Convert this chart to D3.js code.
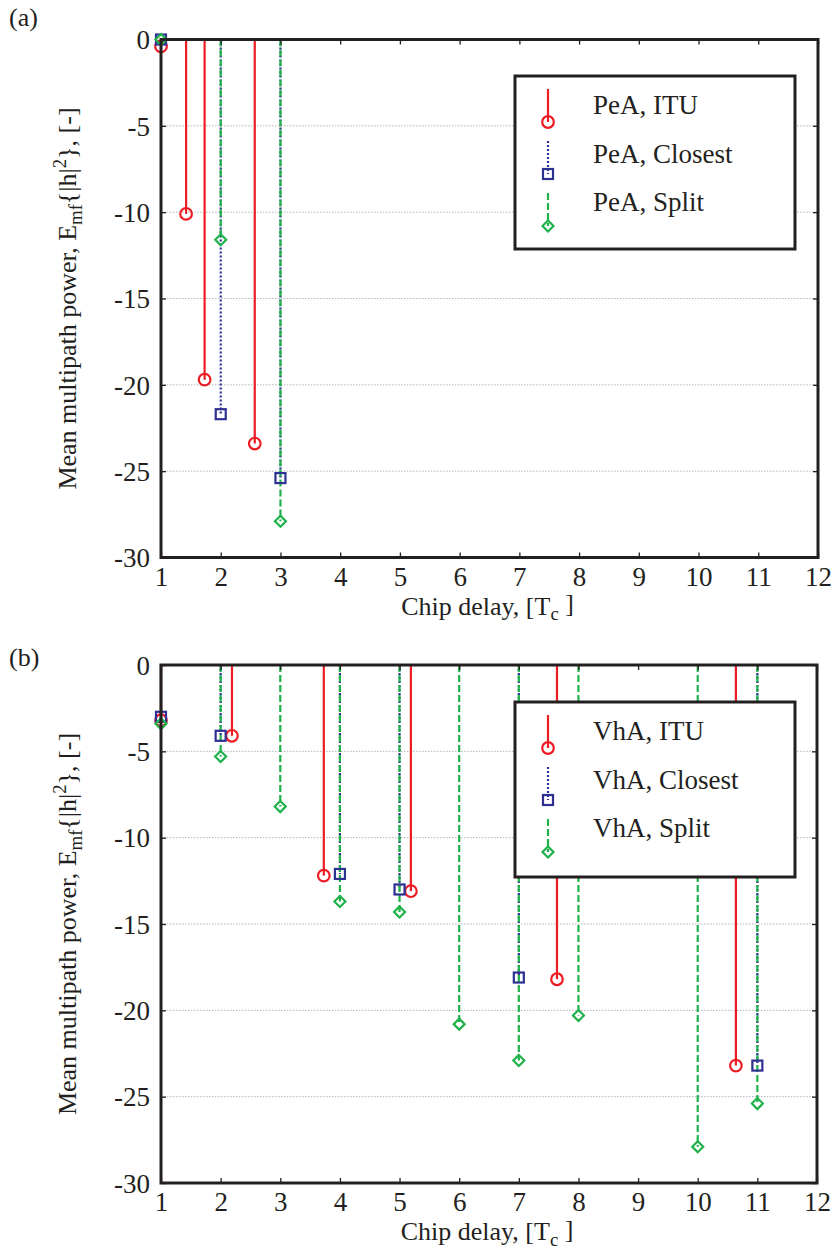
<!DOCTYPE html>
<html><head><meta charset="utf-8">
<script src="https://cdn.jsdelivr.net/npm/d3@7"></script>
<style>
body{margin:0;background:#fff;}
svg{display:block;font-family:"Liberation Serif","Times New Roman",serif;}
</style></head>
<body><svg id="chart" width="840" height="1251"></svg>
<script>
// ---- data ----
const xTicks = [1,2,3,4,5,6,7,8,9,10,11,12];
const yTicks = [0,-5,-10,-15,-20,-25,-30];

// Panel (a): Pedestrian A
const peaItuDelay = [1, 1.42, 1.73, 2.57];
const peaItuPower = [-0.4, -10.1, -19.7, -23.4];
const peaClosestDelay = [1, 2, 3];
const peaClosestPower = [0, -21.7, -25.4];
const peaSplitDelay = [1, 2, 3];
const peaSplitPower = [0, -11.6, -27.9];

// Panel (b): Vehicular A
const vhaItuDelay = [1, 2.19, 3.73, 5.19, 7.64, 10.64];
const vhaItuPower = [-3.2, -4.1, -12.2, -13.1, -18.2, -23.2];
const vhaClosestDelay = [1, 2, 4, 5, 7, 11];
const vhaClosestPower = [-3.0, -4.1, -12.1, -13.0, -18.1, -23.2];
const vhaSplitDelay = [1, 2, 3, 4, 5, 6, 7, 8, 10, 11];
const vhaSplitPower = [-3.4, -5.3, -8.2, -13.7, -14.3, -20.8, -22.9, -20.3, -27.9, -25.4];

const seriesNamesA = ["PeA, ITU", "PeA, Closest", "PeA, Split"];
const seriesNamesB = ["VhA, ITU", "VhA, Closest", "VhA, Split"];

// ---- styles ----
const RED = "#ed1c24", BLUE = "#2e3192", GREEN = "#1fb24a", INK = "#231f20";
const FONT = 26, TICKFONT = 27, LEGFONT = 27;
const styles = [
  {color: RED, dash: null, marker: "circle"},
  {color: BLUE, dash: "2,2", marker: "square"},
  {color: GREEN, dash: "7,3", marker: "diamond"}
];

const svg = d3.select("#chart");

function drawMarker(g, type, cx, cy, color) {
  if (type === "circle") {
    g.append("circle").attr("cx", cx).attr("cy", cy).attr("r", 5.8)
      .attr("fill", "none").attr("stroke", color).attr("stroke-width", 2.2);
  } else if (type === "square") {
    g.append("rect").attr("x", cx - 5).attr("y", cy - 5).attr("width", 10).attr("height", 10)
      .attr("fill", "none").attr("stroke", color).attr("stroke-width", 2.2);
  } else {
    const s = 5.5;
    g.append("path").attr("d", `M${cx},${cy - s}L${cx + s},${cy}L${cx},${cy + s}L${cx - s},${cy}Z`)
      .attr("fill", "none").attr("stroke", color).attr("stroke-width", 2.2);
  }
}

function panel(opt) {
  const {top, bottom, left, right, series, names, legend, tag} = opt;
  const x = d3.scaleLinear().domain([1, 12]).range([left, right]);
  const y = d3.scaleLinear().domain([0, -30]).range([top, bottom]);
  const g = svg.append("g");

  // grid
  g.append("g").selectAll("line").data(yTicks.filter(d => d !== 0 && d !== -30)).join("line")
    .attr("x1", left).attr("x2", right).attr("y1", d => y(d)).attr("y2", d => y(d))
    .attr("stroke", "#b5b5b5").attr("stroke-width", 1).attr("stroke-dasharray", "1.5,1.5");

  // stems
  series.forEach((s, i) => {
    const st = styles[i];
    const sg = g.append("g");
    s.delay.forEach((d, j) => {
      sg.append("line").attr("x1", x(d)).attr("x2", x(d)).attr("y1", y(0)).attr("y2", y(s.power[j]))
        .attr("stroke", st.color).attr("stroke-width", 2.2)
        .attr("stroke-dasharray", st.dash);
    });
  });
  series.forEach((s, i) => {
    const st = styles[i];
    s.delay.forEach((d, j) => drawMarker(g, st.marker, x(d), y(s.power[j]), st.color));
  });

  // axes (ticks inward)
  const axB = g.append("g").attr("transform", `translate(0,${bottom})`)
    .call(d3.axisBottom(x).tickValues(xTicks).tickSize(-5).tickPadding(10).tickFormat(d3.format("d")));
  const axT = g.append("g").attr("transform", `translate(0,${top})`)
    .call(d3.axisTop(x).tickValues(xTicks).tickSize(-5).tickFormat(""));
  const axL = g.append("g").attr("transform", `translate(${left},0)`)
    .call(d3.axisLeft(y).tickValues(yTicks).tickSize(-5).tickPadding(11).tickFormat(d3.format("d")));
  const axR = g.append("g").attr("transform", `translate(${right},0)`)
    .call(d3.axisRight(y).tickValues(yTicks).tickSize(-5).tickFormat(""));
  [axB, axT, axL, axR].forEach(a => {
    a.select(".domain").remove();
    a.selectAll(".tick line").attr("stroke", INK).attr("stroke-width", 1.3);
    a.selectAll("text").attr("font-size", TICKFONT).attr("fill", INK)
      .attr("font-family", '"Liberation Serif","Times New Roman",serif');
  });
  axB.selectAll("text").attr("dy", "0.68em");
  axL.selectAll("text").attr("dy", "0.34em").text(d => d < 0 ? "-" + Math.abs(d) : d);

  // frame
  g.append("rect").attr("x", left).attr("y", top).attr("width", right - left).attr("height", bottom - top)
    .attr("fill", "none").attr("stroke", INK).attr("stroke-width", 3);

  // legend
  const L = legend;
  const lg = g.append("g");
  lg.append("rect").attr("x", L.x).attr("y", L.y).attr("width", L.w).attr("height", L.h)
    .attr("fill", "#fff").attr("stroke", INK).attr("stroke-width", 3);
  names.forEach((n, i) => {
    const st = styles[i];
    const y0 = L.y + 13 + i * 52;
    const lx = L.x + 33;
    lg.append("line").attr("x1", lx).attr("x2", lx).attr("y1", y0).attr("y2", y0 + 33)
      .attr("stroke", st.color).attr("stroke-width", 2.2).attr("stroke-dasharray", st.dash);
    drawMarker(lg, st.marker, lx, y0 + 33, st.color);
    lg.append("text").attr("x", L.x + 78).attr("y", L.y + 38 + i * 48.5)
      .attr("font-size", LEGFONT).attr("fill", INK).text(n);
  });

  // axis titles
  const xt = g.append("text").attr("x", (left + right) / 2 - 2).attr("y", bottom + 57)
    .attr("text-anchor", "middle").attr("font-size", FONT).attr("fill", INK);
  xt.append("tspan").text("Chip delay, [T");
  xt.append("tspan").attr("dy", "0.3em").attr("font-size", FONT * 0.72).text("c");
  xt.append("tspan").attr("dy", "-0.3em").text("\u00a0]");

  const yt = g.append("text")
    .attr("transform", `translate(76,${(top + bottom) / 2}) rotate(-90)`)
    .attr("text-anchor", "middle").attr("font-size", FONT).attr("fill", INK);
  yt.append("tspan").text("Mean multipath power, E");
  yt.append("tspan").attr("dy", 6).attr("font-size", FONT * 0.72).text("mf");
  yt.append("tspan").attr("dy", -6).text("{|h|");
  yt.append("tspan").attr("dy", -10).attr("font-size", FONT * 0.72).text("2");
  yt.append("tspan").attr("dy", 10).text("}, [-]");

  g.append("text").attr("x", 9).attr("y", opt.tagY).attr("font-size", FONT).attr("fill", INK).text(tag);
}

panel({
  top: 39.5, bottom: 557.5, left: 161, right: 818,
  series: [
    {delay: peaItuDelay, power: peaItuPower},
    {delay: peaClosestDelay, power: peaClosestPower},
    {delay: peaSplitDelay, power: peaSplitPower}
  ],
  names: seriesNamesA,
  legend: {x: 515, y: 76, w: 280, h: 173},
  tag: "(a)", tagY: 26
});

panel({
  top: 665, bottom: 1183, left: 161, right: 817,
  series: [
    {delay: vhaItuDelay, power: vhaItuPower},
    {delay: vhaClosestDelay, power: vhaClosestPower},
    {delay: vhaSplitDelay, power: vhaSplitPower}
  ],
  names: seriesNamesB,
  legend: {x: 515, y: 702, w: 280, h: 175},
  tag: "(b)", tagY: 666
});
</script>
</body></html>
